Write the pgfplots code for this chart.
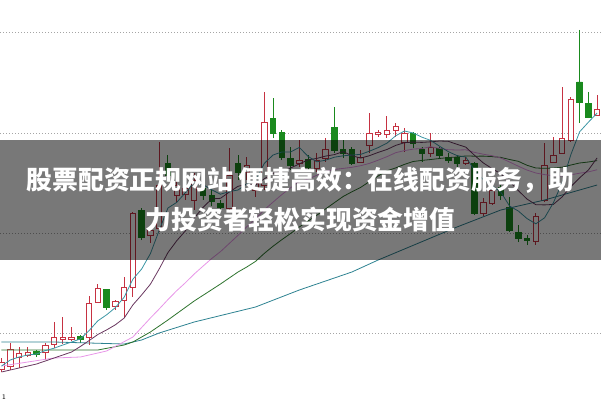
\documentclass[border=0pt]{standalone}
\usepackage{pgfplots}
\pgfplotsset{compat=1.18}
\usepgfplotslibrary{statistics}
\usepackage{pgfplotstable}
\usepackage{fontspec}
\newfontfamily\cjk{Noto Sans CJK SC}
\definecolor{cred}{RGB}{198,50,66}
\definecolor{cgreen}{RGB}{26,138,30}
\definecolor{maA}{RGB}{60,150,165}
\definecolor{maB}{RGB}{105,55,95}
\definecolor{maC}{RGB}{232,150,232}
\definecolor{maD}{RGB}{45,115,45}
\definecolor{maE}{RGB}{45,130,145}
\definecolor{gridc}{RGB}{165,165,165}

% candle: position, wick top, body top, body bottom, wick bottom (pixel rows, y reversed)
\newcommand{\candR}[5]{\addplot[draw=cred, fill=white, line width=0.9pt, boxplot/draw direction=y, boxplot prepared={draw position=#1, lower whisker=#2, lower quartile=#3, median=#3, upper quartile=#4, upper whisker=#5, box extend=0.62, whisker extend=0}] coordinates {};}
\newcommand{\candG}[5]{\addplot[draw=cgreen, fill=cgreen, line width=0.9pt, boxplot/draw direction=y, boxplot prepared={draw position=#1, lower whisker=#2, lower quartile=#3, median=#3, upper quartile=#4, upper whisker=#5, box extend=0.62, whisker extend=0}] coordinates {};}

\pgfplotstableread{
i y
0 366
1 360
2 357
3 355
4 354
5 350.6
6 348.2
7 345
8 342
9 339
10 330.6
11 320.8
12 314.8
13 307.6
14 297.2
15 279.2
16 269
17 253.6
18 230.4
19 208
20 202.4
21 192.6
22 182.6
23 184.6
24 189.8
25 194.2
26 191.6
27 190
28 184
29 180.4
30 163.4
31 155
32 152
33 152
34 147.4
35 156.4
36 161.8
37 160.2
38 157.2
39 155.8
40 155
41 154.4
42 151.2
43 147.6
44 143.2
45 135.8
46 131
47 133
48 137.2
49 140.4
50 146.2
51 151.6
52 155.6
53 157
54 170.2
55 179.6
56 185.6
57 192
58 206
59 211
60 218.6
61 223.8
62 217.8
63 202.8
64 182.8
65 154.6
66 131.8
67 122.2
68 113
}\maFive

\pgfplotstableread{
i y
0 372
2 368
4 364
6 358
8 352
9 346.5
10 340.6
11 334.5
12 329.9
13 324.8
14 318.1
15 304.9
16 294.9
17 284.2
18 269
19 252.6
20 240.8
21 230.8
22 218.1
23 207.5
24 198.9
25 198.3
26 192.1
27 186.3
28 184.3
29 185.1
30 178.8
31 173.3
32 171
33 168
34 163.9
35 159.9
36 158.4
37 156.1
38 154.6
39 151.6
40 155.7
41 158.1
42 155.7
43 152.4
44 149.5
45 145.4
46 142.7
47 142.1
48 142.4
49 141.8
50 141
51 141.3
52 144.3
53 147.1
54 155.3
55 162.9
56 168.6
57 173.8
58 181.5
59 190.6
60 199.1
61 204.7
62 204.9
63 204.4
64 196.9
65 186.6
66 177.8
67 170
68 157.9
}\maTen

\pgfplotstableread{
i y
0 366
3 362
6 358
9 357
12 351
15 337
17 318
18 309
19 299.6
20 290.7
21 282.7
22 274
23 266.2
24 258.5
25 251.6
26 243.5
27 235.3
28 226.7
29 218.9
30 209.8
31 202.1
32 194.6
33 187.8
34 181.4
35 179.1
36 175.3
37 171.2
38 169.5
39 168.4
40 167.3
41 165.7
42 163.4
43 160.2
44 156.7
45 152.7
46 150.6
47 149.1
48 148.5
49 146.7
50 148.4
51 149.7
52 150
53 149.8
54 152.4
55 154.2
56 155.7
57 158
58 162
59 166.2
60 170.1
61 173
62 174.6
63 175.8
64 176.1
65 174.8
66 173.2
67 171.9
68 169.7
}\maTwenty

\pgfplotstableread{
i y
0 350
11 350
14 345
15 342
17 332
19 320
22 301
25 284
27 272
28 267
29 261.4
30 253.4
31 246.2
32 239.7
33 233.5
34 227
35 221
36 215.2
37 208.9
38 202.7
39 196.5
40 191.8
41 187.4
42 181.6
43 176
44 170.8
45 167.9
46 164.4
47 161.5
48 160.4
49 159.5
50 158.5
51 157.6
52 157
53 155.9
54 156.2
55 156.1
56 156.6
57 157.4
58 159.5
59 161.3
60 165.3
61 168
62 168.3
63 168
64 167.2
65 165
66 163
67 162
68 160.6
}\maThirty

\pgfplotstableread{
i y
0 342
6 342
14 344
16 340
18 333
22 322
29 307
34 290
40 272
43 260
52 227
57 210
62 200
68 185
}\maSixty

\begin{document}
\begin{tikzpicture}
\begin{axis}[
  width=601pt, height=401pt, scale only axis,
  xmin=-0.171, xmax=68.44, ymin=0, ymax=401, y dir=reverse,
  axis lines=none, clip=true,
]
% dotted grid lines
\addplot[gridc, line width=1pt, dash pattern=on 1.4pt off 1.6pt, unbounded coords=jump, forget plot] coordinates {
(-0.171,33) (68.44,33) (nan,nan)
(-0.171,133) (68.44,133) (nan,nan)
(-0.171,233) (68.44,233) (nan,nan)
(-0.171,333) (68.44,333)};

\candR{0}{358}{362}{369}{372}
\candR{1}{343}{349}{366}{370}
\candR{2}{347}{353}{357}{368}
\candR{3}{347}{352}{355}{357}
\candG{4}{350}{351}{354}{357}
\candR{5}{343}{345}{352}{360}
\candR{6}{322}{337}{344}{348}
\candR{7}{317}{337}{339}{344}
\candR{8}{327}{337}{339}{341}
\candG{9}{335}{336}{339}{343}
\candR{10}{296}{303}{337}{345}
\candR{11}{284}{288}{302}{303}
\candG{12}{289}{289}{307}{310}
\candR{13}{300}{301}{306}{310}
\candR{14}{277}{287}{300}{317}
\candR{15}{212}{213}{287}{297}
\candG{16}{208}{210}{237}{240}
\candR{17}{227}{230}{235}{243}
\candR{18}{142}{185}{228}{232}
\candG{19}{155}{163}{175}{182}
\candR{20}{172}{185}{195}{203}
\candR{21}{180}{188}{194}{200}
\candR{22}{173}{180}{200}{210}
\candG{23}{182}{188}{195}{200}
\candG{24}{190}{195}{201}{206}
\candG{25}{200}{203}{207}{212}
\candR{26}{148}{175}{208}{210}
\candG{27}{155}{163}{172}{180}
\candR{28}{157}{165}{172}{180}
\candR{29}{180}{183}{190}{197}
\candR{30}{92}{122}{185}{190}
\candG{31}{98}{118}{133}{138}
\candG{32}{130}{132}{157}{160}
\candG{33}{147}{158}{165}{170}
\candR{34}{140}{160}{163}{167}
\candG{35}{155}{159}{167}{170}
\candR{36}{153}{160}{168}{172}
\candR{37}{138}{149}{158}{162}
\candG{38}{107}{127}{150}{153}
\candG{39}{140}{149}{153}{158}
\candG{40}{147}{149}{163}{165}
\candR{41}{150}{157}{162}{163}
\candR{42}{113}{133}{145}{153}
\candR{43}{130}{132}{134}{137}
\candR{44}{116}{130}{134}{138}
\candR{45}{123}{126}{130}{137}
\candR{46}{128}{133}{142}{152}
\candG{47}{132}{133}{143}{148}
\candG{48}{147}{149}{153}{162}
\candR{49}{133}{147}{153}{157}
\candG{50}{147}{148}{155}{158}
\candG{51}{153}{157}{160}{163}
\candG{52}{155}{157}{163}{167}
\candR{53}{157}{160}{163}{165}
\candG{54}{162}{163}{213}{215}
\candR{55}{198}{202}{213}{216}
\candR{56}{187}{190}{203}{205}
\candG{57}{185}{187}{195}{200}
\candG{58}{197}{207}{230}{232}
\candG{59}{225}{232}{238}{242}
\candG{60}{235}{238}{240}{245}
\candR{61}{213}{216}{241}{245}
\candR{62}{143}{165}{200}{202}
\candR{63}{137}{155}{162}{163}
\candR{64}{87}{138}{153}{154}
\candR{65}{97}{99}{140}{142}
\candG{66}{30}{82}{102}{123}
\candG{67}{92}{103}{117}{118}
\candR{68}{95}{109}{115}{116}

% moving averages
\addplot[maE, line width=0.8pt] table[x=i, y=y] {\maSixty};
\addplot[maD, line width=0.8pt] table[x=i, y=y] {\maThirty};
\addplot[maC, line width=0.8pt] table[x=i, y=y] {\maTwenty};
\addplot[maB, line width=0.8pt] table[x=i, y=y] {\maTen};
\addplot[maA, line width=0.8pt] table[x=i, y=y] {\maFive};

% banner
\fill[black, fill opacity=0.53] (axis cs:-0.171,140) rectangle (axis cs:68.44,260);
\node[text=white, inner sep=0pt, anchor=center, font=\cjk\bfseries\fontsize{25.8}{30}\selectfont]
  at (axis cs:34.13,180) {股票配资正规网站 便捷高效：在线配资服务，助};
\node[text=white, inner sep=0pt, anchor=center, font=\cjk\bfseries\fontsize{25.8}{30}\selectfont]
  at (axis cs:34.13,220) {力投资者轻松实现资金增值};
\node[inner sep=0pt, anchor=base west, font=\sffamily\fontsize{7}{7}\selectfont] at (axis cs:0.05,399) {1};
\end{axis}
\pgfresetboundingbox
\path (current axis.south west) rectangle (current axis.north east);
\end{tikzpicture}
\end{document}
